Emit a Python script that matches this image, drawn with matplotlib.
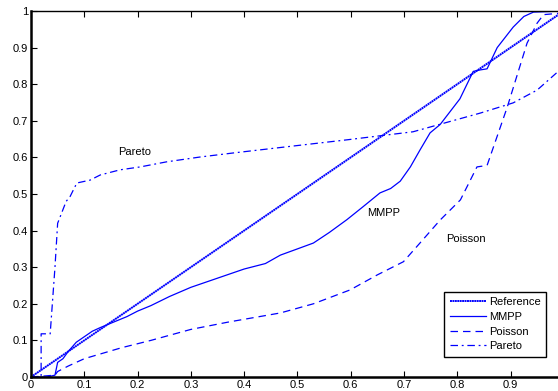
import numpy as np
import matplotlib
matplotlib.use('Agg')
import matplotlib.pyplot as plt

plt.rcParams['font.family'] = ['Liberation Sans', 'DejaVu Sans']

# reference: ideal y = x
ref_x = [0.0, 1.0]
ref_y = [0.0, 1.0]

mmpp_x = [0.0, 0.03, 0.045, 0.05, 0.06, 0.07, 0.085, 0.1, 0.115, 0.13, 0.155, 0.18,
          0.2, 0.225, 0.26, 0.3, 0.35, 0.4, 0.44, 0.468, 0.5, 0.53, 0.56, 0.593, 0.623,
          0.655, 0.675, 0.693, 0.712, 0.73, 0.749, 0.768, 0.805, 0.83, 0.843, 0.856, 0.875,
          0.905, 0.925, 0.943, 1.0]
mmpp_y = [0.0, 0.0, 0.005, 0.04, 0.05, 0.07, 0.095, 0.11, 0.125, 0.135, 0.15, 0.165,
          0.18, 0.195, 0.22, 0.245, 0.27, 0.295, 0.31, 0.333, 0.35, 0.366, 0.395, 0.43, 0.465,
          0.503, 0.515, 0.535, 0.574, 0.62, 0.667, 0.69, 0.76, 0.835, 0.839, 0.842, 0.90,
          0.956, 0.985, 0.997, 1.0]

poisson_x = [0.0, 0.045, 0.05, 0.07, 0.1, 0.17, 0.225, 0.3, 0.37, 0.468, 0.53, 0.599,
             0.65, 0.699, 0.73, 0.768, 0.806, 0.837, 0.856, 0.894, 0.931, 0.95,
             0.962, 1.0]
poisson_y = [0.0, 0.005, 0.015, 0.03, 0.05, 0.08, 0.1, 0.13, 0.15, 0.175, 0.2, 0.238,
             0.279, 0.315, 0.366, 0.429, 0.484, 0.574, 0.578, 0.738, 0.912, 0.967,
             0.99, 0.995]

pareto_x = [0.0, 0.019, 0.019, 0.036, 0.045, 0.05, 0.058, 0.066, 0.073, 0.086, 0.111,
            0.13, 0.167, 0.205, 0.255, 0.317, 0.379, 0.462, 0.593, 0.717, 0.843,
            0.905, 0.95, 0.988, 1.0]
pareto_y = [0.0, 0.0, 0.118, 0.118, 0.3, 0.42, 0.45, 0.48, 0.492, 0.53, 0.538,
            0.552, 0.566, 0.574, 0.588, 0.601, 0.612, 0.626, 0.648, 0.67, 0.721,
            0.749, 0.784, 0.833, 0.85]

tick_labels = ['0', '0.1', '0.2', '0.3', '0.4', '0.5', '0.6', '0.7', '0.8', '0.9', '1']

blue = '#0000ff'

fig = plt.figure(figsize=(5.58, 3.91), dpi=100)
ax = fig.add_axes([31 / 558, 14 / 391, 532.8 / 558, 366 / 391])

ax.plot(ref_x, ref_y, color=blue, lw=1.4, linestyle=(0, (1, 0.25)), label='Reference')
ax.plot(mmpp_x, mmpp_y, color=blue, lw=0.9, label='MMPP')
ax.plot(poisson_x, poisson_y, color=blue, lw=0.9, linestyle=(0, (6, 4)), label='Poisson')
ax.plot(pareto_x, pareto_y, color=blue, lw=0.9, linestyle=(0, (6, 3, 1.5, 3)), label='Pareto')

ax.text(0.195, 0.615, 'Pareto', fontsize=8, ha='center', va='center')
ax.text(0.661, 0.448, 'MMPP', fontsize=8, ha='center', va='center')
ax.text(0.817, 0.377, 'Poisson', fontsize=8, ha='center', va='center')

ax.set_xlim(0, 1)
ax.set_ylim(0, 1)
ax.set_xticks(np.arange(0, 1.01, 0.1))
ax.set_yticks(np.arange(0, 1.01, 0.1))
# the right end of the axis is cropped away in the picture
ax.set_xticklabels(tick_labels[:-1] + [''])
ax.set_yticklabels(tick_labels)
ax.tick_params(direction='in', length=4, width=0.8, labelsize=8, top=True, right=True, pad=2)
for side in ['left', 'bottom']:
    ax.spines[side].set_linewidth(1.8)
for side in ['top', 'right']:
    ax.spines[side].set_linewidth(1.0)

leg = ax.legend(loc='lower right', bbox_to_anchor=(0.967, 0.055), fontsize=8,
                fancybox=False, edgecolor='black', framealpha=1, handlelength=3.2,
                borderpad=0.5, labelspacing=0.42, handletextpad=0.3, borderaxespad=0)
leg.get_frame().set_linewidth(1.0)

fig.savefig('out.png', dpi=100)
